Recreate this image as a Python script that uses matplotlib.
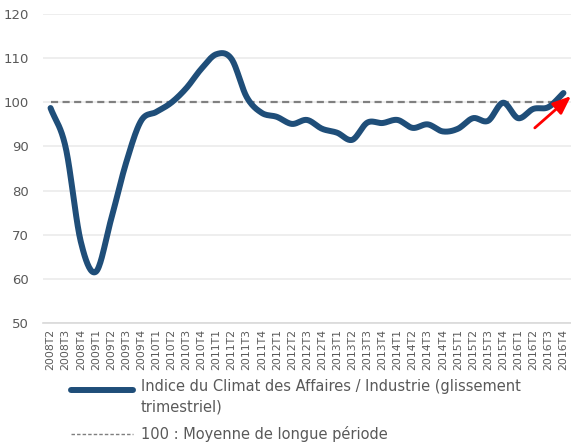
import numpy as np
import matplotlib
matplotlib.use("Agg")
import matplotlib.pyplot as plt
from matplotlib.lines import Line2D

quarters = ["2008T2", "2008T3", "2008T4"] + [f"{y}T{q}" for y in range(2009, 2017) for q in range(1, 5)]
ica_values = [98.7, 89.8, 68.5, 61.6, 73.3, 86.2, 95.8, 97.8, 99.9, 103.2,
              107.6, 110.9, 109.8, 101.2, 97.6, 96.7, 95.1, 96.0, 94.0, 93.1,
              91.5, 95.4, 95.3, 96.0, 94.2, 95.0, 93.4, 94.0, 96.4, 95.8,
              99.9, 96.4, 98.5, 98.9, 102.1]
long_term_mean = [100] * len(quarters)
y_ticks = [50, 60, 70, 80, 90, 100, 110, 120]
legend_labels = ["Indice du Climat des Affaires / Industrie (glissement\ntrimestriel)",
                 "100 : Moyenne de longue période"]


def smooth(x, y, n=20):
    x = np.asarray(x, float)
    y = np.asarray(y, float)
    px = np.concatenate([[2 * x[0] - x[1]], x, [2 * x[-1] - x[-2]]])
    py = np.concatenate([[2 * y[0] - y[1]], y, [2 * y[-1] - y[-2]]])
    xs, ys = [], []
    for i in range(1, len(px) - 2):
        t = np.linspace(0, 1, n, endpoint=False)
        for arr, out in ((px, xs), (py, ys)):
            p0, p1, p2, p3 = arr[i - 1], arr[i], arr[i + 1], arr[i + 2]
            out.extend(0.5 * ((2 * p1) + (-p0 + p2) * t + (2 * p0 - 5 * p1 + 4 * p2 - p3) * t ** 2
                              + (-p0 + 3 * p1 - 3 * p2 + p3) * t ** 3))
    xs.append(x[-1]); ys.append(y[-1])
    return np.array(xs), np.array(ys)


fig = plt.figure(figsize=(5.71, 4.46), dpi=100)
ax = fig.add_axes([43 / 571, 1 - 323 / 446, 528 / 571, 309 / 446])

x = np.arange(len(quarters))
sx, sy = smooth(x, ica_values)
ax.plot(sx, sy, color="#1F4E79", lw=4.3, solid_capstyle="round", zorder=3)
ax.plot(x, long_term_mean, color="#808080", lw=1.6, linestyle=(0, (3.2, 2.0)), zorder=2)

ax.annotate("", xy=(34.5, 101.4), xytext=(32.1, 94.2),
            arrowprops=dict(arrowstyle="-|>,head_length=1.1,head_width=0.45", color="#FF0000",
                            lw=2.0, shrinkA=0, shrinkB=0),
            annotation_clip=False, zorder=4)

ax.set_xlim(-0.5, len(quarters) - 0.5)
ax.set_ylim(50, 120)
ax.set_yticks(y_ticks)
ax.set_xticks(x)
ax.set_xticklabels(quarters, rotation=90, fontsize=7.8, color="#595959")
ax.tick_params(axis="y", labelsize=9.5, colors="#595959", length=0, pad=10)
ax.tick_params(axis="x", length=0, pad=4)
ax.grid(axis="y", color="#EBEBEB", lw=1.2)
ax.set_axisbelow(True)
for s in ["top", "right", "left"]:
    ax.spines[s].set_visible(False)
ax.spines["bottom"].set_color("#D9D9D9")
ax.spines["bottom"].set_linewidth(1.2)

fig.add_artist(Line2D([71 / 571, 133 / 571], [1 - 390 / 446] * 2, color="#1F4E79", lw=4.3,
                      solid_capstyle="round"))
fig.text(141 / 571, 1 - 397 / 446, legend_labels[0], fontsize=10.5, color="#595959",
         va="center", linespacing=1.45)
fig.add_artist(Line2D([71 / 571, 133 / 571], [1 - 434 / 446] * 2, color="#7F7F7F", lw=1.0,
                      linestyle=(0, (2.5, 1.5))))
fig.text(141 / 571, 1 - 434 / 446, legend_labels[1], fontsize=10.5, color="#595959", va="center")

fig.savefig("out.png", dpi=100)
